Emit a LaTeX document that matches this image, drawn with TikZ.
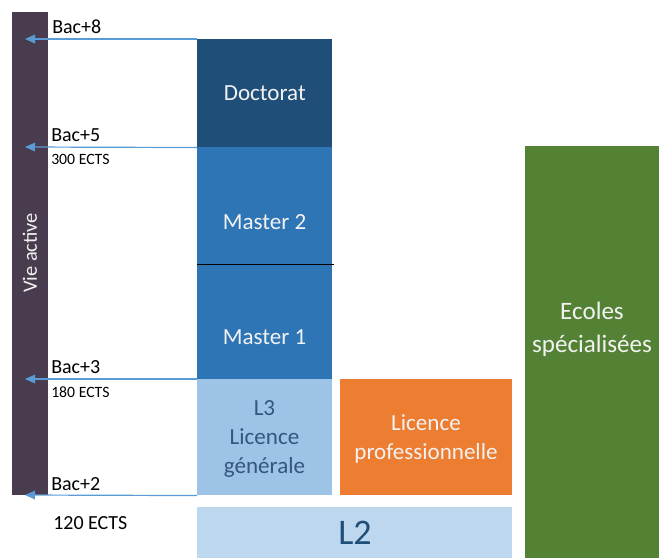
\documentclass[tikz,border=0pt]{standalone}
\usepackage{fontspec}
\setmainfont{Carlito}
\usetikzlibrary{arrows.meta}

\definecolor{vieviolet}{RGB}{72,60,78}
\definecolor{docbleu}{RGB}{31,78,121}
\definecolor{masterbleu}{RGB}{46,117,182}
\definecolor{lbleu}{RGB}{157,195,230}
\definecolor{ldeuxbleu}{RGB}{189,215,238}
\definecolor{lproorange}{RGB}{237,125,49}
\definecolor{ecolevert}{RGB}{84,130,53}
\definecolor{flechebleu}{RGB}{91,155,213}
\definecolor{ltexte}{RGB}{52,86,128}

\tikzset{
  bloc/.style 2 args={draw=none, inner sep=0pt, anchor=north west,
    minimum width=#1*0.75pt, minimum height=#2*0.75pt},
  niveau/.style={draw=flechebleu, line width=0.9pt, -{Triangle[length=7.5pt,width=6.5pt]}},
  etiq/.style={anchor=west, inner sep=0pt, font=\fontsize{15}{17}\selectfont},
  petit/.style={anchor=west, inner sep=0pt, font=\fontsize{11.8}{13}\selectfont},
  blanc/.style={text=white!95!black, align=center, inner sep=0pt,
    font=\fontsize{17.3}{21.5}\selectfont},
}

\begin{document}
\begin{tikzpicture}[x=0.75pt,y=-0.75pt]
\useasboundingbox (0,0) rectangle (659,558);
% blocs
\node[bloc={36}{483}, fill=vieviolet] (vie) at (12,12) {};
\node[bloc={135}{108}, fill=docbleu] (doc) at (197,39) {};
\node[bloc={135}{117}, fill=masterbleu] (m2) at (197,147) {};
\node[bloc={135}{115}, fill=masterbleu] (m1) at (197,264) {};
\node[bloc={135}{116}, fill=lbleu] (l3) at (197,379) {};
\node[bloc={315}{51}, fill=ldeuxbleu] (l2) at (197,507) {};
\node[bloc={172}{116}, fill=lproorange] (lpro) at (340,379) {};
\node[bloc={134}{412}, fill=ecolevert] (ecole) at (525,146) {};
\draw[black, line width=0.75pt] (m2.south west) -- ([xshift=1pt]m2.south east);
% textes des blocs
\node[blanc, rotate=90, font=\fontsize{15.3}{17}\selectfont] (vietxt) at (30,253) {Vie active};
\node[blanc] (doctxt) at (doc.center) {Doctorat};
\node[blanc] (m2txt) at (264.5,222) {Master 2};
\node[blanc] (m1txt) at (264.5,337) {Master 1};
\node[blanc, text=ltexte] (l3txt) at (264.5,439) {L3\\Licence\\générale};
\node[blanc] (lprotxt) at (426,439) {Licence\\professionnelle};
\node[blanc, font=\fontsize{18.8}{25}\selectfont] (ecoletxt) at (592,329) {Ecoles\\spécialisées};
\node[blanc, text=docbleu, font=\fontsize{27}{30}\selectfont] (l2txt) at (355,533) {L2};
% niveaux
\coordinate (b8) at (25,39);
\coordinate (b5) at (25,147);
\coordinate (b3) at (25,379);
\coordinate (b2) at (25,495);
\draw[niveau] (doc.north west) -- (b8);
\draw[niveau] (doc.south west) -- (b5);
\draw[niveau] (l3.north west) -- (b3);
\draw[niveau] (l3.south west) -- (b2);
\node[etiq] (bac8) at (52,27) {Bac+8};
\node[etiq] (bac5) at (51,135) {Bac+5};
\node[petit] (ects300) at (51,159) {300 ECTS};
\node[etiq] (bac3) at (51,367) {Bac+3};
\node[petit] (ects180) at (51,392) {180 ECTS};
\node[etiq] (bac2) at (51,484) {Bac+2};
\node[etiq] (ects120) at (53,523) {120 ECTS};
\end{tikzpicture}
\end{document}
